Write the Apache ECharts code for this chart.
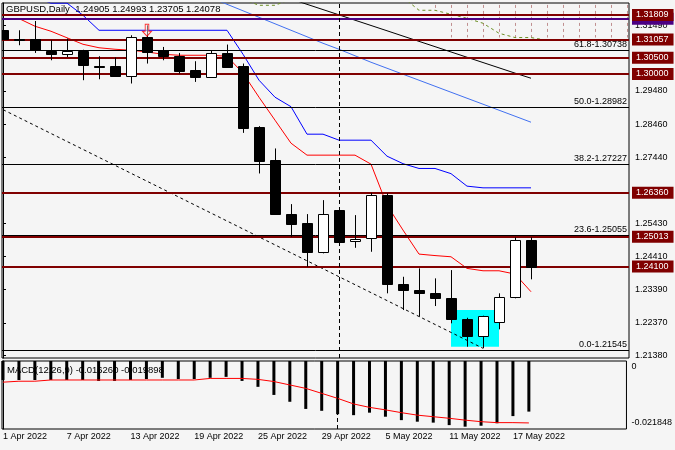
<!DOCTYPE html>
<html>
<head>
<meta charset="utf-8">
<script src="https://cdn.jsdelivr.net/npm/echarts/dist/echarts.min.js"></script>
<style>
html,body{margin:0;padding:0;background:#F5F5F5;}
#c{width:675px;height:450px;}
</style>
</head>
<body>
<div id="c"></div>
<script>
// ---- data ----
const dates = ['1 Apr','4 Apr','5 Apr','6 Apr','7 Apr','8 Apr','11 Apr','12 Apr','13 Apr','14 Apr','15 Apr',
  '18 Apr','19 Apr','20 Apr','21 Apr','22 Apr','25 Apr','26 Apr','27 Apr','28 Apr','29 Apr',
  '2 May','3 May','4 May','5 May','6 May','9 May','10 May','11 May','12 May','13 May','16 May','17 May','18 May'];
const dateLabelIdx = [0,4,8,12,16,20,24,28,32];

const open  = [1.31339,1.31063,1.31085,1.30705,1.30625,1.30705,1.30252,1.30237,1.29930,1.31134,1.30727,1.30543,1.30114,1.29909,1.30644,1.30237,1.28359,1.27357,1.25704,1.25437,1.24531,1.25826,1.24867,1.24959,1.26285,1.23550,1.23376,1.23275,1.23122,1.22478,1.21967,1.22387,1.23171,1.24905];
const high  = [1.31400,1.31339,1.31624,1.31033,1.31085,1.30742,1.30543,1.30503,1.31186,1.31492,1.30828,1.30644,1.30390,1.30705,1.30901,1.30319,1.28399,1.27716,1.26010,1.25704,1.26132,1.25887,1.25673,1.26356,1.26338,1.23783,1.24040,1.23734,1.23988,1.22527,1.22590,1.23275,1.24990,1.24993];
const low   = [1.31033,1.30880,1.30644,1.30420,1.30521,1.29808,1.29838,1.29909,1.29707,1.30319,1.30420,1.30013,1.29756,1.29890,1.30197,1.28194,1.26950,1.25680,1.25008,1.24089,1.24500,1.24754,1.24671,1.24549,1.23275,1.22763,1.22558,1.22886,1.22356,1.21639,1.21590,1.22172,1.23122,1.23705];
const close = [1.31085,1.31055,1.30727,1.30625,1.30705,1.30289,1.30221,1.29930,1.31134,1.30674,1.30552,1.30093,1.29909,1.30644,1.30215,1.28328,1.27336,1.25694,1.25388,1.24531,1.25704,1.24855,1.24938,1.26285,1.23550,1.23367,1.23275,1.23122,1.22478,1.21967,1.22579,1.23171,1.24907,1.24078];

const redMA   = [1.31697,1.31697,1.31462,1.31309,1.31109,1.30910,1.30803,1.30757,1.30727,1.30674,1.30604,1.30573,1.30573,1.30573,1.30543,1.30022,1.29287,1.28583,1.27878,1.27511,1.27511,1.27511,1.27511,1.27235,1.25979,1.25214,1.24478,1.24433,1.24396,1.24040,1.23967,1.23967,1.23866,1.23324];
const blueMA  = [1.3235,1.3235,1.3235,1.3217,1.3217,1.31799,1.31339,1.31339,1.31339,1.31339,1.31339,1.31339,1.31339,1.31339,1.31339,1.30604,1.29808,1.29287,1.28996,1.28154,1.28154,1.27970,1.27970,1.27970,1.27480,1.27250,1.27103,1.27103,1.26944,1.26561,1.26509,1.26509,1.26509,1.26509];
const slowMA  = [null,null,null,null,null,null,null,null,null,null,null,null,null,1.32335,1.32135,1.31936,1.31737,1.31538,1.31339,1.31140,1.30941,1.30757,1.30558,1.30359,1.30175,1.29991,1.29808,1.29624,1.29440,1.29256,1.29073,1.28889,1.28705,1.28521];
const longMA  = [null,null,null,null,null,null,null,null,null,null,null,null,null,null,null,null,null,null,1.32298,1.32135,1.31973,1.31811,1.31648,1.31486,1.31324,1.31161,1.30999,1.30837,1.30674,1.30512,1.30350,1.30188,1.30025,1.29869];
const spanA   = [null,null,null,null,null,null,null,null,null,null,null,null,null,null,null,1.32289,1.32105,1.32105,1.32289,null,null,null,null,null,null,1.32350,1.31952,1.31952,1.31829,1.31707,1.31554,1.31247,1.31116,1.31116,1.31033,1.31033,1.31033,1.31033,1.31033,1.31033];
const cloudIdx    = [27,28,29,30,31,32,33,34,35,36,37,38,39];
const cloudBottom = [1.3195,1.3112,1.3112,1.3112,1.3112,1.3112,1.3112,1.3112,1.3112,1.3112,1.3112,1.3112,1.3112];
const trendLine = [[-1,1.2915],[30,1.21590]];

const levels = [1.31809,1.31057,1.30500,1.30000,1.26360,1.25013,1.24100];
const purpleLevel = 1.31690;
const currentPrice = 1.24078;
const fibNames  = ['61.8','50.0','38.2','23.6','0.0'];
const fibValues = [1.30738,1.28982,1.27227,1.25055,1.21545];
const priceTicks = [1.31490,1.29480,1.28460,1.27440,1.25430,1.24410,1.23390,1.22370,1.21380];
const boxStart = [28,1.21639], boxEnd = [31,1.22763];
const arrowPoint = [9,1.31339];
const vLineIdx = 21;

const macdHist = [-0.0061,-0.0061,-0.0061,-0.0061,-0.0061,-0.0061,-0.0064,-0.0064,-0.0061,-0.0058,-0.0054,-0.0058,-0.0058,-0.0054,-0.0051,-0.0064,-0.0083,-0.0109,-0.0131,-0.0154,-0.0160,-0.0171,-0.0174,-0.0166,-0.0179,-0.0190,-0.0195,-0.0198,-0.0206,-0.0211,-0.0208,-0.0200,-0.0177,-0.016260];
const macdSignal = [-0.0068,-0.0065,-0.0065,-0.0061,-0.0061,-0.0061,-0.0061,-0.0061,-0.0061,-0.0061,-0.0061,-0.0061,-0.0061,-0.0056,-0.0056,-0.0056,-0.0059,-0.0066,-0.0077,-0.0088,-0.0104,-0.0120,-0.0138,-0.0149,-0.0157,-0.0166,-0.0174,-0.0179,-0.0184,-0.0190,-0.0195,-0.0198,-0.0198,-0.019898];
const macdMin = -0.021848;

// ---- build ----
const FONT = 'Liberation Sans';
const idxPairs = arr => arr.map((v,i)=>[i,v]);
const candleData = open.map((o,i)=>[i,o,close[i],low[i],high[i]]);

function boxLabel(bg, v){
  return {show:true, position:'end', distance:3, backgroundColor:bg, color:'#fff',
    fontSize:9, fontFamily:FONT, padding:[1,5,0,4], lineHeight:11,
    formatter: v.toFixed(5)};
}
const markData = [];
markData.push({yAxis:purpleLevel, lineStyle:{color:'#4B0082',width:2,type:'solid'}, label:boxLabel('#4B0082', purpleLevel)});
markData.push({yAxis:currentPrice, lineStyle:{opacity:0}, label:Object.assign(boxLabel('#000', currentPrice),{padding:[1,5,3,4]})});
fibValues.forEach((v,k)=>{
  markData.push({yAxis:v, lineStyle:{color:'#000',width:1,type:'solid'},
    label:{show:true, position:'insideEndTop', distance:[2,1], color:'#000', fontSize:9, fontFamily:FONT,
      formatter: fibNames[k]+'-'+v.toFixed(5)}});
});
levels.forEach(v=>{
  markData.push({yAxis:v, lineStyle:{color:'#800000',width:2,type:'solid'}, label:boxLabel('#800000', v)});
});
markData.push({xAxis:vLineIdx, lineStyle:{color:'#000',width:1,type:[4,3]}, label:{show:false}});

const XMIN = -0.0625, XMAX = 39.125;

const option = {
  animation:false,
  backgroundColor:'#F5F5F5',
  textStyle:{fontFamily:FONT},
  grid:[
    {left:2, right:46, top:3, height:355, show:true, backgroundColor:'#F5F5F5', borderColor:'#000', borderWidth:1},
    {left:2, right:46, top:361, height:68, show:true, backgroundColor:'#F5F5F5', borderColor:'#000', borderWidth:1}
  ],
  xAxis:[
    {type:'value', gridIndex:0, min:XMIN, max:XMAX, axisLine:{show:false}, axisTick:{show:false}, axisLabel:{show:false}, splitLine:{show:false}},
    {type:'value', gridIndex:1, min:XMIN, max:XMAX, axisLine:{show:false}, splitLine:{show:false},
      axisTick:{show:true, length:3, customValues:dateLabelIdx, lineStyle:{color:'#000'}},
      axisLabel:{show:true, customValues:dateLabelIdx, align:'left', margin:3, color:'#000', fontSize:9, fontFamily:FONT,
        formatter: v => dates[Math.round(v)] + ' 2022'}}
  ],
  yAxis:[
    {type:'value', gridIndex:0, position:'right', min:1.21293, max:1.32175, splitLine:{show:false},
      axisLine:{show:true, lineStyle:{color:'#000'}},
      axisTick:{show:true, length:3, customValues:priceTicks, lineStyle:{color:'#000'}},
      axisLabel:{show:true, customValues:priceTicks, margin:6, color:'#000', fontSize:9, fontFamily:FONT,
        formatter: v => v.toFixed(5)}},
    {type:'value', gridIndex:1, position:'right', min:macdMin, max:0, splitLine:{show:false},
      axisLine:{show:true, lineStyle:{color:'#000'}},
      axisTick:{show:false},
      axisLabel:{show:true, customValues:[0,macdMin], margin:5, color:'#000', fontSize:9, fontFamily:FONT,
        formatter: v => v===0 ? '{t|0}' : '{b|'+v.toFixed(6)+'}',
        rich:{t:{padding:[12,0,0,0],fontSize:9,fontFamily:FONT,color:'#000'}, b:{padding:[0,0,12,0],fontSize:9,fontFamily:FONT,color:'#000'}}}}
  ],
  graphic:[
    {type:'text', left:6, top:4, z:1, style:{text:'GBPUSD,Daily  1.24905 1.24993 1.23705 1.24078', fontSize:9.5, fontFamily:FONT, fill:'#000'}},
    {type:'text', left:7, top:365, z:1, style:{text:'MACD(12,26,9) -0.016260 -0.019898', fontSize:9.5, fontFamily:FONT, fill:'#000'}}
  ],
  series:[
    {type:'custom', name:'cloud', xAxisIndex:0, yAxisIndex:0, z:2, clip:true,
      data: cloudIdx.map((i,k)=>[i,1.3230,cloudBottom[k]]),
      renderItem:(params,api)=>{
        const a = api.coord([api.value(0),api.value(1)]);
        const b = api.coord([api.value(0),api.value(2)]);
        const x = Math.round(a[0])+0.5;
        return {type:'line', shape:{x1:x,y1:a[1],x2:x,y2:b[1]}, style:{stroke:'#C09090',lineWidth:1,lineDash:[3,3]}};
      }},
    {type:'line', name:'spanA', xAxisIndex:0, yAxisIndex:0, z:3, data:idxPairs(spanA), showSymbol:false, symbol:'none',
      lineStyle:{color:'#6B8E23',width:1,type:[3,3]}},
    {type:'line', name:'levels', xAxisIndex:0, yAxisIndex:0, z:3, data:idxPairs(redMA), showSymbol:false, symbol:'none',
      lineStyle:{color:'#FF0000',width:1},
      markLine:{silent:true, precision:6, symbol:['none','none'], animation:false, data:markData},
      markArea:{silent:true, itemStyle:{color:'#00FFFF'}, data:[[{coord:boxStart},{coord:boxEnd}]]}},
    {type:'line', name:'blueMA', xAxisIndex:0, yAxisIndex:0, z:3, data:idxPairs(blueMA), showSymbol:false, symbol:'none',
      lineStyle:{color:'#0000FF',width:1}},
    {type:'line', name:'slowMA', xAxisIndex:0, yAxisIndex:0, z:3, data:idxPairs(slowMA), showSymbol:false, symbol:'none',
      lineStyle:{color:'#4070F0',width:1}},
    {type:'line', name:'longMA', xAxisIndex:0, yAxisIndex:0, z:3, data:idxPairs(longMA), showSymbol:false, symbol:'none',
      lineStyle:{color:'#000000',width:1}},
    {type:'line', name:'trend', xAxisIndex:0, yAxisIndex:0, z:4, data:trendLine, showSymbol:false, symbol:'none',
      lineStyle:{color:'#000',width:1,type:[3,3]}},
    {type:'custom', name:'candles', xAxisIndex:0, yAxisIndex:0, z:5, clip:true, data:candleData,
      encode:{x:0,y:[1,2,3,4]},
      renderItem:(params,api)=>{
        const i=api.value(0), o=api.value(1), c=api.value(2), l=api.value(3), h=api.value(4);
        const pO=api.coord([i,o]), pC=api.coord([i,c]), pL=api.coord([i,l]), pH=api.coord([i,h]);
        const x=Math.round(pO[0])+0.5;
        const top=Math.round(Math.min(pO[1],pC[1]))+0.5, bot=Math.round(Math.max(pO[1],pC[1]))+0.5;
        const bull=c>o;
        return {type:'group', children:[
          {type:'line', shape:{x1:x,y1:pH[1],x2:x,y2:pL[1]}, style:{stroke:'#000',lineWidth:1}},
          {type:'rect', shape:{x:x-5,y:top,width:10,height:Math.max(bot-top,1)}, style:{fill:bull?'#fff':'#000',stroke:'#000',lineWidth:1}}
        ]};
      }},
    {type:'scatter', name:'arrow', xAxisIndex:0, yAxisIndex:0, z:6, data:[arrowPoint],
      symbol:'path://M3,0 L7,0 L7,7 L10,7 L5,12 L0,7 L3,7 Z', symbolSize:[9,12],
      itemStyle:{color:'rgba(255,230,230,0.6)', borderColor:'#FF0000', borderWidth:1}},
    {type:'bar', name:'macd', xAxisIndex:1, yAxisIndex:1, z:3, data:idxPairs(macdHist), barWidth:3,
      itemStyle:{color:'#000'},
      markLine:{silent:true, symbol:['none','none'], animation:false,
        data:[{xAxis:vLineIdx, lineStyle:{color:'#000',width:1,type:[4,3]}, label:{show:false}}]}},
    {type:'line', name:'signal', xAxisIndex:1, yAxisIndex:1, z:4, data:idxPairs(macdSignal), showSymbol:false, symbol:'none',
      lineStyle:{color:'#FF0000',width:1}}
  ]
};
const chart = echarts.init(document.getElementById('c'), null, {renderer:'canvas'});
chart.setOption(option);
</script>
</body>
</html>
